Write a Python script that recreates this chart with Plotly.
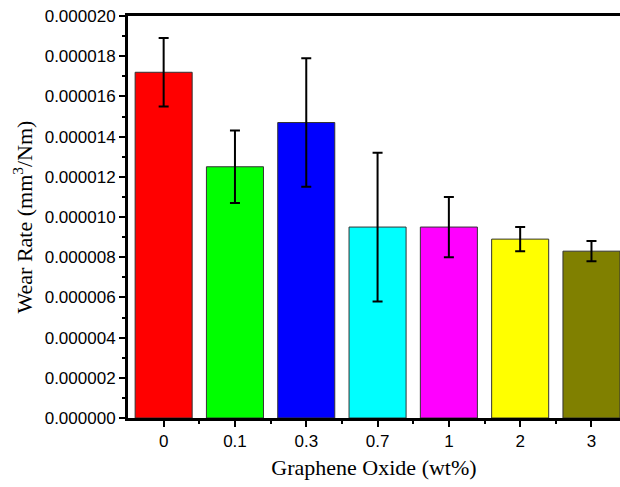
import plotly.graph_objects as go

categories = ["0", "0.1", "0.3", "0.7", "1", "2", "3"]
wear_rate = [1.72e-5, 1.25e-5, 1.47e-5, 9.5e-6, 9.5e-6, 8.9e-6, 8.3e-6]
wear_err = [1.7e-6, 1.8e-6, 3.2e-6, 3.7e-6, 1.5e-6, 0.6e-6, 0.5e-6]
colors = ["#FF0000", "#00FF00", "#0000FF", "#00FFFF", "#FF00FF", "#FFFF00", "#808000"]

xpos = list(range(len(categories)))

fig = go.Figure()
fig.add_trace(go.Bar(
    x=xpos, y=wear_rate, width=0.8,
    marker=dict(color=colors, line=dict(color="#333333", width=1)),
    error_y=dict(type="data", array=wear_err, color="black", thickness=2, width=5),
    showlegend=False,
))

fig.update_layout(
    width=620, height=487,
    margin=dict(l=128, r=0, t=16, b=69),
    plot_bgcolor="white", paper_bgcolor="white",
    xaxis=dict(
        range=[-0.5, 6.4],
        tickmode="array", tickvals=xpos, ticktext=categories,
        ticks="outside", ticklen=6, tickwidth=2, tickcolor="black",
        showline=True, linecolor="black", linewidth=3, mirror=True,
        showgrid=False, zeroline=False,
        tickfont=dict(family="Liberation Sans, Arial", size=17, color="black"),
        minor=dict(tickvals=[i + 0.5 for i in xpos[:-1]], ticks="outside", ticklen=3,
                   tickwidth=2, tickcolor="black", showgrid=False),
        title=dict(text="Graphene Oxide (wt%)", standoff=10,
                   font=dict(family="Liberation Serif, Times New Roman", size=22, color="black")),
    ),
    yaxis=dict(
        range=[0, 2.0e-5],
        tickmode="linear", tick0=0, dtick=2e-6, tickformat=".6f",
        ticks="outside", ticklen=6, tickwidth=2, tickcolor="black",
        showline=True, linecolor="black", linewidth=3,
        showgrid=False, zeroline=False,
        tickfont=dict(family="Liberation Sans, Arial", size=17, color="black"),
        minor=dict(dtick=1e-6, ticks="outside", ticklen=3, tickwidth=2,
                   tickcolor="black", showgrid=False),
        title=dict(text="Wear Rate (mm<sup>3</sup>/Nm)", standoff=6,
                   font=dict(family="Liberation Serif, Times New Roman", size=22, color="black")),
    ),
)

fig.write_html("out.html")
